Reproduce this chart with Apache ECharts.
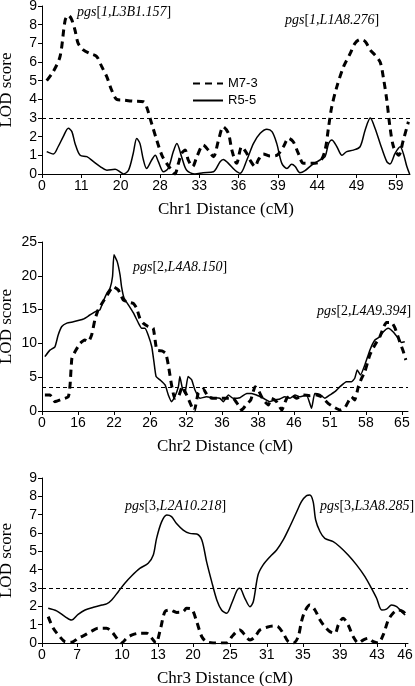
<!DOCTYPE html>
<html>
<head>
<meta charset="utf-8">
<script src="https://cdn.jsdelivr.net/npm/echarts@6/dist/echarts.min.js"></script>
<style>html,body{margin:0;padding:0;background:#fff}#c{width:415px;height:686px}</style>
</head>
<body>
<div id="c"></div>
<script>
// ---- tick labels (marker distances, cM) and their positions along each axis ----
const chr1TickPos = [0,1,2,3,4,5,6,7,8,9];
const chr1TickLabels = ['0','11','20','28','33','36','39','44','49','59'];
const chr2TickPos = [0,1,2,3,4,5,6,7,8,9,10];
const chr2TickLabels = ['0','16','22','26','32','36','38','46','51','58','65'];
const chr3TickPos = [0,0.96,2.19,3.18,4.14,5.15,6.16,7.15,8.16,9.18,9.95];
const chr3TickLabels = ['0','7','10','13','20','25','31','35','39','43','46'];

// ---- thresholds ----
const thresholds = [3, 3.5, 3];

// ---- series values: [axis position, LOD score] ----
const chr1_M73 = [[0.12,5.0],[0.29,5.5],[0.46,6.3],[0.59,8.25],[0.67,8.5],[0.75,8.3],[0.84,7.7],[0.92,7.0],[1.05,6.65],[1.22,6.45],[1.39,6.3],[1.52,5.75],[1.65,5.2],[1.77,4.5],[1.9,4.0],[2.07,3.96],[2.32,3.9],[2.58,3.87],[2.66,3.6],[2.79,2.7],[2.92,1.8],[3.05,1.0],[3.17,0.57],[3.3,0.2],[3.38,0],[3.47,0.57],[3.55,1.1],[3.64,1.28],[3.72,0.75],[3.83,0.4],[3.94,0.93],[4.1,1.55],[4.23,1.28],[4.36,0.93],[4.49,1.82],[4.61,2.53],[4.74,2.18],[4.83,1.28],[4.95,0.57],[5.08,1.46],[5.21,1.1],[5.29,0.75],[5.42,0.4],[5.5,0.75],[5.63,1.07],[5.8,0.96],[5.97,1.0],[6.14,1.46],[6.27,1.91],[6.39,1.73],[6.52,1.1],[6.65,0.57],[6.82,0.57],[7.07,0.66],[7.2,1.28],[7.29,2.53],[7.37,3.6],[7.5,4.68],[7.67,5.75],[7.84,6.46],[7.96,7.0],[8.09,7.2],[8.22,7.1],[8.35,6.64],[8.47,6.37],[8.6,6.0],[8.68,5.2],[8.77,3.96],[8.85,2.53],[8.94,1.46],[9.07,1.0],[9.19,1.82],[9.32,2.8]];
const chr1_R55 = [[0.12,1.2],[0.29,1.07],[0.41,1.46],[0.54,2.0],[0.67,2.45],[0.76,2.27],[0.84,1.64],[0.97,1.0],[1.14,0.93],[1.31,0.66],[1.48,0.4],[1.65,0.2],[1.86,0.25],[1.98,0.12],[2.07,0],[2.2,0.2],[2.32,1.1],[2.41,1.9],[2.49,1.64],[2.58,0.75],[2.66,0.3],[2.79,0.75],[2.88,1.0],[2.96,0.66],[3.09,0.12],[3.21,0.3],[3.34,1.2],[3.43,1.64],[3.55,0.93],[3.68,0.2],[3.89,0],[4.1,0.07],[4.36,0.12],[4.53,0.66],[4.61,0.78],[4.74,0.57],[4.91,0.2],[5.04,0.04],[5.21,0.75],[5.38,1.64],[5.55,2.18],[5.72,2.4],[5.85,2.27],[5.97,1.64],[6.1,0.57],[6.23,0.3],[6.35,0.52],[6.44,0.4],[6.56,0.07],[6.69,0.18],[6.86,0.48],[7.07,0.75],[7.2,0.93],[7.29,1.64],[7.37,1.82],[7.5,1.46],[7.63,1.0],[7.75,1.2],[7.92,1.28],[8.09,1.46],[8.22,2.36],[8.35,3.0],[8.47,2.45],[8.6,1.64],[8.77,0.66],[8.85,0.54],[8.98,1.1],[9.11,1.46],[9.19,1.1],[9.28,0.4],[9.35,0]];

const chr2_M73 = [[0.08,2.37],[0.22,2.37],[0.36,1.38],[0.55,1.73],[0.73,2.1],[0.78,3.85],[0.83,7.8],[0.92,8.8],[1.06,10.0],[1.19,10.5],[1.29,10.25],[1.38,11.25],[1.47,13.5],[1.56,14.95],[1.7,16.2],[1.84,17.4],[1.98,18.4],[2.12,17.9],[2.26,16.4],[2.4,16.1],[2.54,15.9],[2.63,15.2],[2.72,13.7],[2.81,13.0],[2.95,12.5],[3.09,12.25],[3.19,9.0],[3.33,8.9],[3.44,8.5],[3.51,6.8],[3.6,3.85],[3.69,1.88],[3.79,2.1],[3.9,3.6],[4.02,2.37],[4.16,0.64],[4.23,0],[4.34,2.6],[4.48,3.25],[4.62,2.1],[4.76,1.88],[4.94,1.88],[5.13,1.88],[5.31,1.88],[5.45,0.9],[5.55,0.15],[5.67,0.9],[5.8,1.63],[5.92,3.6],[6.01,3.1],[6.15,1.63],[6.29,0.9],[6.38,1.88],[6.52,1.38],[6.66,0.15],[6.8,1.88],[6.94,2.37],[7.07,1.88],[7.26,2.37],[7.44,2.27],[7.63,2.37],[7.77,2.1],[7.95,1.14],[8.09,0.64],[8.28,0.15],[8.42,0.5],[8.51,1.38],[8.6,2.1],[8.69,1.63],[8.79,3.6],[8.88,4.84],[8.97,5.8],[9.11,8.3],[9.25,9.77],[9.39,11.0],[9.48,12.25],[9.57,13.1],[9.71,13.1],[9.81,12.25],[9.94,10.25],[10.04,8.8],[10.11,7.55]];
const chr2_R55 = [[0.08,8.04],[0.22,9.0],[0.36,9.5],[0.45,11.25],[0.55,12.5],[0.69,13.0],[0.87,13.2],[1.15,13.6],[1.33,14.2],[1.52,14.8],[1.61,14.95],[1.7,16.2],[1.8,17.4],[1.89,18.15],[1.96,19.9],[2.0,23.1],[2.09,22.1],[2.17,20.1],[2.21,18.4],[2.28,16.7],[2.4,15.7],[2.54,14.5],[2.68,13.0],[2.77,12.25],[2.86,12.25],[2.95,11.25],[3.05,9.5],[3.11,7.3],[3.17,5.1],[3.28,4.6],[3.42,3.85],[3.51,2.37],[3.6,1.38],[3.69,2.1],[3.79,3.6],[3.83,5.1],[3.9,3.36],[3.97,2.6],[4.06,5.1],[4.16,4.6],[4.25,3.1],[4.39,1.88],[4.57,2.1],[4.76,1.97],[4.94,1.88],[5.04,1.38],[5.18,2.37],[5.31,1.88],[5.5,1.97],[5.69,2.6],[5.82,2.6],[5.96,2.37],[6.15,1.88],[6.33,1.38],[6.47,1.63],[6.61,1.78],[6.75,2.1],[6.89,1.88],[7.03,2.37],[7.17,2.1],[7.35,2.37],[7.49,0.4],[7.58,2.6],[7.72,2.45],[7.86,1.88],[8.0,2.37],[8.14,2.86],[8.28,3.6],[8.46,4.34],[8.6,4.34],[8.69,4.84],[8.76,6.07],[8.85,5.33],[8.97,6.8],[9.11,9.0],[9.25,10.5],[9.39,11.0],[9.48,11.7],[9.62,12.25],[9.76,11.7],[9.9,10.75],[9.99,10.15],[10.08,10.25]];

const chr3_M73 = [[0.17,1.44],[0.31,0.8],[0.49,0.34],[0.63,0.07],[0.81,0.04],[0.99,0.26],[1.18,0.44],[1.36,0.65],[1.54,0.8],[1.77,0.8],[1.91,0.62],[2.05,0.26],[2.18,0],[2.32,0.26],[2.47,0.44],[2.66,0.53],[2.87,0.53],[3.01,0.26],[3.12,0],[3.25,0.8],[3.37,1.71],[3.51,1.8],[3.69,1.67],[3.87,1.71],[3.96,1.89],[4.1,1.85],[4.24,1.16],[4.38,0.34],[4.51,0.07],[4.69,0],[4.88,0],[5.06,0],[5.2,0.34],[5.33,0.62],[5.42,0.71],[5.56,0.44],[5.7,0.16],[5.84,0.34],[5.97,0.71],[6.16,0.86],[6.34,0.93],[6.47,0.89],[6.61,0.53],[6.75,0.07],[6.89,0],[7.02,0.34],[7.11,1.16],[7.2,1.71],[7.34,2.07],[7.48,1.8],[7.62,1.25],[7.75,0.89],[7.89,0.62],[8.03,0.53],[8.12,0.98],[8.25,1.35],[8.39,0.98],[8.53,0.34],[8.67,0],[8.8,0.16],[8.94,0.26],[9.08,0.07],[9.21,0],[9.35,0.44],[9.49,1.25],[9.62,1.62],[9.76,1.8],[9.9,1.71],[9.97,1.53]];
const chr3_R55 = [[0.17,1.89],[0.4,1.75],[0.63,1.44],[0.81,1.25],[0.99,1.56],[1.18,1.8],[1.41,1.95],[1.64,2.07],[1.77,2.13],[1.91,2.35],[2.09,2.8],[2.27,3.26],[2.46,3.67],[2.68,4.07],[2.91,4.35],[3.05,4.8],[3.14,5.71],[3.28,6.62],[3.42,6.98],[3.55,6.89],[3.68,6.53],[3.87,6.16],[4.05,5.98],[4.24,5.95],[4.38,5.62],[4.51,4.44],[4.65,3.35],[4.79,2.35],[4.92,1.8],[5.06,1.62],[5.2,2.17],[5.35,2.89],[5.42,2.98],[5.56,2.44],[5.7,1.98],[5.79,2.25],[5.92,3.71],[6.06,4.26],[6.25,4.71],[6.43,5.07],[6.61,5.62],[6.79,6.34],[6.98,7.16],[7.11,7.71],[7.25,8.04],[7.34,8.07],[7.43,7.71],[7.5,6.71],[7.62,6.07],[7.75,5.71],[7.98,5.53],[8.16,5.25],[8.39,4.8],[8.62,4.26],[8.85,3.62],[9.03,2.98],[9.17,2.44],[9.31,1.8],[9.44,1.85],[9.58,2.07],[9.72,1.98],[9.85,1.71],[9.95,1.53]];

// ---- annotations ----
const annotations = [
  {num: '1,', numItalic: true, marker: 'L3B1.157'},
  {num: '1,', numItalic: true, marker: 'L1A8.276'},
  {num: '2,', numItalic: false, marker: 'L4A8.150'},
  {num: '2,', numItalic: false, marker: 'L4A9.394'},
  {num: '3,', numItalic: false, marker: 'L2A10.218'},
  {num: '3,', numItalic: false, marker: 'L3A8.285'}
];
const annotationPlaces = [[77,13],[285,21],[133,268],[317,312],[125,507],[320,507]];

const SANS = '"Liberation Sans", Arial, sans-serif';
const SERIF = '"Liberation Serif", "Times New Roman", serif';

const grids = [
  {left: 42, right: 5, top: 6, height: 168, containLabel: false, outerBoundsMode: 'none'},
  {left: 42, right: 7, top: 242, height: 169, containLabel: false, outerBoundsMode: 'none'},
  {left: 42, right: 7, top: 478, height: 165, containLabel: false, outerBoundsMode: 'none'}
];
const xMax = [9.36, 10.17, 10.03];
const yMax = [9, 25, 9];
const yInt = [1, 5, 1];
const xNames = ['Chr1 Distance (cM)', 'Chr2 Distance (cM)', 'Chr3 Distance (cM)'];
const tickPos = [chr1TickPos, chr2TickPos, chr3TickPos];
const tickLabels = [chr1TickLabels, chr2TickLabels, chr3TickLabels];
const seriesData = [[chr1_M73, chr1_R55], [chr2_M73, chr2_R55], [chr3_M73, chr3_R55]];

const axisLine = {show: true, onZero: false, lineStyle: {color: '#000', width: 1}};

const xAxis = grids.map((g, i) => ({
  type: 'value', gridIndex: i, min: 0, max: xMax[i],
  axisLine: axisLine,
  axisTick: {show: true, length: 4, customValues: tickPos[i], lineStyle: {color: '#000'}},
  splitLine: {show: false},
  axisLabel: {
    customValues: tickPos[i], color: '#000', fontFamily: SANS, fontSize: 14, margin: 5,
    formatter: (v) => { const k = tickPos[i].findIndex(p => Math.abs(p - v) < 1e-6); return k >= 0 ? tickLabels[i][k] : ''; }
  },
  name: xNames[i], nameLocation: 'middle', nameGap: 27, nameMoveOverlap: false,
  nameTextStyle: {fontFamily: SERIF, fontSize: 17, color: '#000'}
}));

const yAxis = grids.map((g, i) => ({
  type: 'value', gridIndex: i, min: 0, max: yMax[i], interval: yInt[i],
  axisLine: axisLine,
  axisTick: {show: true, length: 4, lineStyle: {color: '#000'}},
  splitLine: {show: false},
  axisLabel: {color: '#000', fontFamily: SANS, fontSize: 14, margin: 5},
  name: 'LOD score', nameLocation: 'middle', nameGap: 27, nameMoveOverlap: false,
  nameTextStyle: {fontFamily: SERIF, fontSize: 17, color: '#000'}
}));

const series = [];
seriesData.forEach((pair, i) => {
  series.push({
    name: 'M7-3', type: 'line', xAxisIndex: i, yAxisIndex: i, data: pair[0],
    showSymbol: false, symbol: 'none', smooth: i === 1 ? 0.15 : 0.3,
    lineStyle: {color: '#000', width: 3, type: [7, 5]},
    itemStyle: {color: '#000'},
    markLine: {
      silent: true, symbol: 'none', label: {show: false},
      lineStyle: {color: '#000', width: 1, type: [4, 3]},
      data: [{yAxis: thresholds[i]}]
    },
    z: 3
  });
  series.push({
    name: 'R5-5', type: 'line', xAxisIndex: i, yAxisIndex: i, data: pair[1],
    showSymbol: false, symbol: 'none', smooth: i === 1 ? 0.15 : 0.3,
    lineStyle: {color: '#000', width: 1.5},
    itemStyle: {color: '#000'},
    z: 2
  });
});

const graphic = annotations.map((a, k) => ({
  type: 'text', left: annotationPlaces[k][0], top: annotationPlaces[k][1] - 8,
  style: {
    text: '{i|pgs}{n|[}' + (a.numItalic ? '{i|' + a.num + '}' : '{n|' + a.num + '}') + '{i|' + a.marker + '}{n|]}',
    rich: {
      i: {fontFamily: SERIF, fontStyle: 'italic', fontSize: 14, fill: '#000'},
      n: {fontFamily: SERIF, fontSize: 14, fill: '#000'}
    }
  }
}));

const chart = echarts.init(document.getElementById('c'), null, {renderer: 'canvas'});
chart.setOption({
  animation: false,
  backgroundColor: '#fff',
  grid: grids,
  xAxis: xAxis,
  yAxis: yAxis,
  legend: {
    data: ['M7-3', 'R5-5'], orient: 'vertical', left: 187, top: 72,
    itemWidth: 30, itemHeight: 14, itemGap: 4,
    itemStyle: {opacity: 0},
    textStyle: {fontFamily: SANS, fontSize: 13, color: '#000'}
  },
  series: series,
  graphic: graphic
});
</script>
</body>
</html>
